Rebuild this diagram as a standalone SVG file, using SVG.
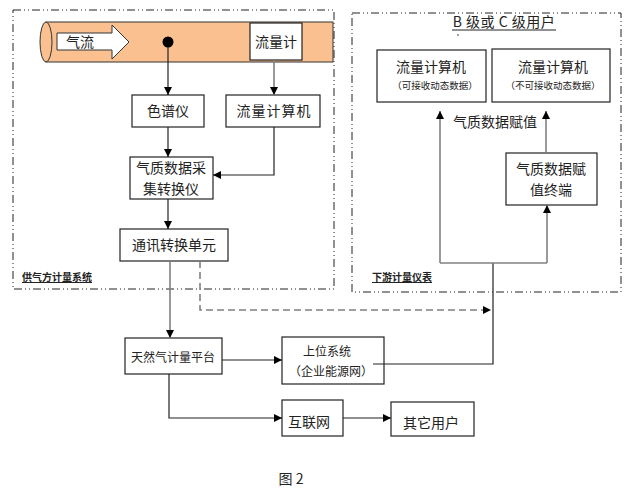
<svg xmlns="http://www.w3.org/2000/svg" width="638" height="494" viewBox="0 0 638 494">
<defs>
<marker id="ah" viewBox="0 0 10 10" refX="10" refY="5" markerWidth="8" markerHeight="8" markerUnits="userSpaceOnUse" orient="auto">
<path d="M0,0 L10,5 L0,10 z" fill="#000"/>
</marker>
</defs>
<style>
text{font-family:"Noto Sans CJK SC","Liberation Sans",sans-serif;fill:#222;text-anchor:middle}
.box{fill:#fff;stroke:#222;stroke-width:1.2}
.frame{fill:none;stroke:#222;stroke-width:1;stroke-dasharray:8 3 1 3 1 3}
.c{fill:none;stroke:#222;stroke-width:1.2}
.g{fill:none;stroke:#808080;stroke-width:1.6}
.t14{font-size:14px}
.t12{font-size:12px}
.t9{font-size:9.5px}
.lab{font-size:10px;font-weight:bold;text-anchor:start;text-decoration:underline}
</style>
<rect width="638" height="494" fill="#fff"/>
<g id="frame-left"><rect class="frame" x="13" y="10" width="321" height="279"/><text class="lab" x="22" y="281">供气方计量系统</text></g>
<g id="frame-right"><rect class="frame" x="352" y="13" width="269" height="279"/><text class="lab" x="372" y="281">下游计量仪表</text>
<text class="t14" x="504" y="27" style="letter-spacing:0.5px">B 级或 C 级用户</text>
<line x1="452" y1="30" x2="556" y2="30" stroke="#222" stroke-width="1"/>
<line x1="457" y1="35" x2="459" y2="35" stroke="#444" stroke-width="1"/></g>
<g id="pipe">
<rect x="46" y="22" width="287" height="40" fill="#FAC090" stroke="#333" stroke-width="1"/>
<ellipse cx="46" cy="42" rx="6" ry="20" fill="#FAC090" stroke="#333" stroke-width="1"/>
<path d="M57,33 L112,33 L112,25 L129,42 L112,59 L112,50 L57,50 z" fill="#fff" stroke="#333" stroke-width="1"/>
<text class="t14" x="80" y="47">气流</text>
<circle cx="168" cy="42" r="5.5" fill="#000"/>
</g>
<g id="n-flowmeter"><rect class="box" x="250" y="23" width="52" height="37"/><text class="t14" x="276" y="47">流量计</text></g>
<g id="n-chromato"><rect class="box" x="132" y="95" width="72" height="32"/><text class="t14" x="168" y="116">色谱仪</text></g>
<g id="n-flowcomp"><rect class="box" x="226" y="95" width="94" height="32"/><text class="t14" x="274" y="116" style="letter-spacing:1px">流量计算机</text></g>
<g id="n-collector"><rect class="box" x="130" y="157" width="83" height="42"/><text class="t14" x="171" y="173">气质数据采</text><text class="t14" x="171" y="194">集转换仪</text></g>
<g id="n-comm"><rect class="box" x="120" y="229" width="108" height="32"/><text class="t14" x="174" y="250">通讯转换单元</text></g>
<g id="n-platform"><rect class="box" x="125" y="338" width="97" height="36"/><text class="t12" x="173" y="362">天然气计量平台</text></g>
<g id="n-upper"><rect class="box" x="282" y="337" width="102" height="47"/><text class="t12" x="327" y="356">上位系统</text><text class="t12" x="331" y="376">（企业能源网）</text></g>
<g id="n-internet"><rect class="box" x="282" y="400" width="61" height="36"/><text class="t14" x="309" y="427">互联网</text></g>
<g id="n-others"><rect class="box" x="391" y="402" width="83" height="34"/><text class="t14" x="431" y="428">其它用户</text></g>
<g id="n-fc1"><rect class="box" x="377" y="50" width="109" height="52"/><text class="t14" x="431" y="72">流量计算机</text><text class="t9" x="435" y="89">（可接收动态数据）</text></g>
<g id="n-fc2"><rect class="box" x="492" y="49" width="118" height="53"/><text class="t14" x="553" y="72">流量计算机</text><text class="t9" x="553" y="89">（不可接收动态数据）</text></g>
<g id="n-terminal"><rect class="box" x="506" y="153" width="91" height="52"/><text class="t14" x="551" y="174">气质数据赋</text><text class="t14" x="551" y="195">值终端</text></g>
<g id="connectors">
<line class="c" x1="168" y1="47" x2="168" y2="95" marker-end="url(#ah)"/>
<line class="g" x1="274" y1="60" x2="274" y2="95" marker-end="url(#ah)"/>
<line class="c" x1="168" y1="127" x2="168" y2="157" marker-end="url(#ah)"/>
<polyline class="c" points="274,127 274,175 213,175" marker-end="url(#ah)"/>
<line class="c" x1="168" y1="199" x2="168" y2="229" marker-end="url(#ah)"/>
<line class="g" x1="170" y1="261" x2="170" y2="338" marker-end="url(#ah)"/>
<polyline class="g" points="200,261 200,310 491,310" stroke-dasharray="7 4" marker-end="url(#ah)"/>
<line class="c" x1="222" y1="360" x2="282" y2="360" marker-end="url(#ah)"/>
<polyline class="c" points="169,374 169,418 282,418" marker-end="url(#ah)"/>
<line class="c" x1="343" y1="418" x2="391" y2="418" marker-end="url(#ah)"/>
<polyline class="c" points="373,364 493,364 493,263"/>
<line class="g" x1="440" y1="263" x2="547" y2="263"/>
<line class="g" x1="440" y1="263" x2="440" y2="111" marker-end="url(#ah)"/>
<line class="g" x1="547" y1="263" x2="547" y2="205" marker-end="url(#ah)"/>
<line class="g" x1="546" y1="153" x2="546" y2="111" marker-end="url(#ah)"/>
<text class="t14" x="495" y="127">气质数据赋值</text>
</g>
<text class="t14" x="291" y="484">图 2</text>
</svg>
